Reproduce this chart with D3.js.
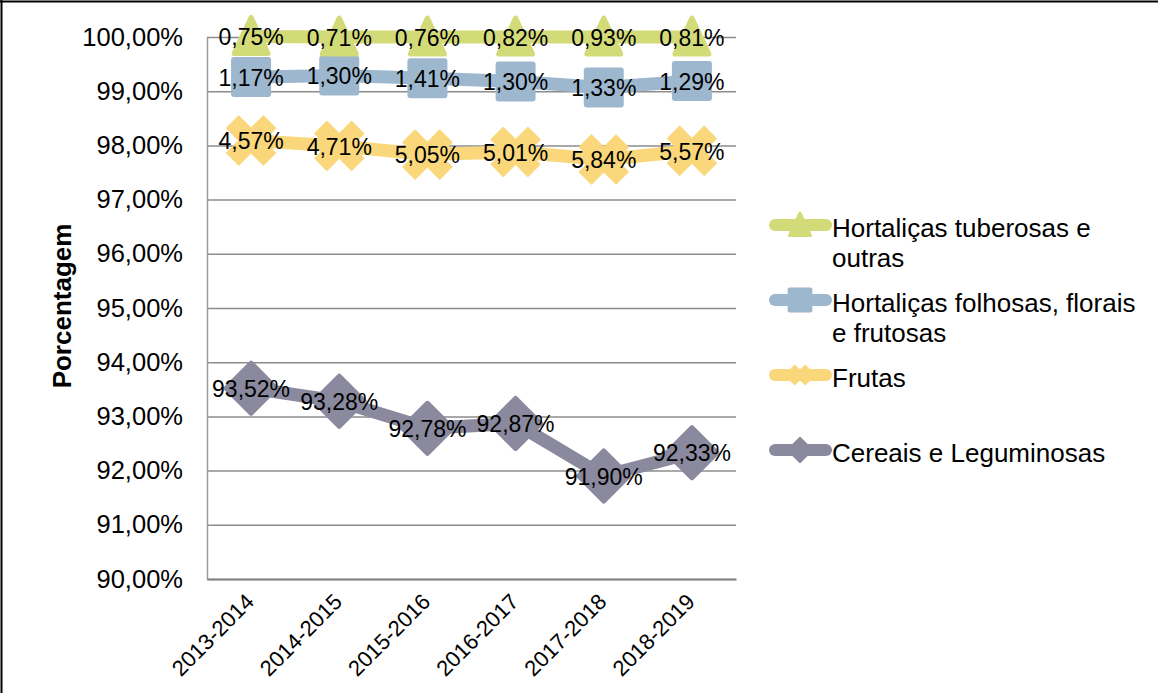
<!DOCTYPE html>
<html>
<head>
<meta charset="utf-8">
<script src="https://cdn.jsdelivr.net/npm/d3@7"></script>
<style>
  body { margin: 0; background: #fff; }
  svg { display: block; font-family: "Liberation Sans", Arial, sans-serif; }
</style>
</head>
<body>
<svg id="chart" width="1158" height="693"></svg>
<script>

// data
const categories = ["2013-2014", "2014-2015", "2015-2016", "2016-2017", "2017-2018", "2018-2019"]
const cereais = [93.52, 93.28, 92.78, 92.87, 91.90, 92.33]
const frutas = [4.57, 4.71, 5.05, 5.01, 5.84, 5.57]
const folhosas = [1.17, 1.30, 1.41, 1.30, 1.33, 1.29]
const tuberosas = [0.75, 0.71, 0.76, 0.82, 0.93, 0.81]
const yTicks = [90, 91, 92, 93, 94, 95, 96, 97, 98, 99, 100]

// stacking order (bottom first)
const seriesKeys = ["cereais", "frutas", "folhosas", "tuberosas"]
const seriesValues = { cereais, frutas, folhosas, tuberosas }
const seriesColors = { cereais: "#8a899e", frutas: "#fad77a", folhosas: "#9db7cf", tuberosas: "#d3da78" }
const seriesMarkers = { cereais: "diamond", frutas: "x", folhosas: "square", tuberosas: "triangle" }

// legend goes top to bottom
const legendKeys = ["tuberosas", "folhosas", "frutas", "cereais"]
const legendLabels = {
  tuberosas: ["Hortaliças tuberosas e", "outras"],
  folhosas: ["Hortaliças folhosas, florais", "e frutosas"],
  frutas: ["Frutas"],
  cereais: ["Cereais e Leguminosas"]
}

const fmt = v => v.toFixed(2).replace(".", ",") + "%"

const svg = d3.select("#chart")

// outer frame (top and left only visible)
svg.append("line").attr("x1", 0).attr("x2", 1158).attr("y1", 1.5).attr("y2", 1.5)
  .attr("stroke", "#000").attr("stroke-width", 2)
svg.append("line").attr("x1", 1.5).attr("x2", 1.5).attr("y1", 0).attr("y2", 693)
  .attr("stroke", "#000").attr("stroke-width", 2)

const plot = { left: 207, right: 736, top: 37, bottom: 579 }

const x = d3.scaleBand().domain(categories).range([plot.left, plot.right])
const xc = c => x(c) + x.bandwidth() / 2
const y = d3.scaleLinear().domain([90, 100]).range([plot.bottom, plot.top])

// gridlines
svg.append("g")
  .attr("transform", `translate(${plot.left},0)`)
  .call(d3.axisLeft(y).tickValues(yTicks).tickSize(-(plot.right - plot.left)).tickFormat(""))
  .call(g => g.select(".domain").remove())
  .call(g => g.selectAll("line").attr("stroke", "#8c8c8c").attr("stroke-width", 1.5))

// y axis
svg.append("g")
  .attr("transform", `translate(${plot.left},0)`)
  .call(d3.axisLeft(y).tickValues(yTicks).tickSize(0).tickPadding(24).tickFormat(fmt))
  .call(g => g.select(".domain").attr("stroke", "#9a9a9a").attr("stroke-width", 1.5))
  .call(g => g.selectAll("text").attr("font-size", 25.5).attr("fill", "#000")
    .attr("font-family", "Liberation Sans, Arial, sans-serif"))

// x axis
svg.append("g")
  .attr("transform", `translate(0,${plot.bottom})`)
  .call(d3.axisBottom(x).tickSize(0))
  .call(g => g.select(".domain").attr("stroke", "#858585").attr("stroke-width", 2))
  .call(g => g.selectAll("text")
    .attr("font-size", 22).attr("fill", "#000")
    .attr("font-family", "Liberation Sans, Arial, sans-serif")
    .attr("text-anchor", "end")
    .attr("x", -14).attr("y", 20).attr("dy", 0)
    .attr("transform", "rotate(-45)"))

// axis title
svg.append("text")
  .attr("transform", "translate(71,306) rotate(-90)")
  .attr("text-anchor", "middle")
  .attr("font-size", 26).attr("font-weight", "bold")
  .text("Porcentagem")

// marker shapes
function markerPath(type) {
  if (type === "triangle") return "M0,-19L17,17L-17,17Z"
  if (type === "square") return "M-17,-17H17V17H-17Z"
  if (type === "diamond") return "M0,-25L25,0L0,25L-25,0Z"
  return d3.symbol(d3.symbolCross, 1520)()
}
const markerStroke = { triangle: 5, square: 6, diamond: 5, x: 1 }

// stacked data
const rows = categories.map((c, i) => {
  let r = { cat: c }
  seriesKeys.forEach(k => r[k] = seriesValues[k][i])
  return r
})
const stacked = d3.stack().keys(seriesKeys)(rows)

const line = d3.line()
  .x(d => xc(d.data.cat))
  .y(d => y(d[1]))

const series = svg.append("g").selectAll("g")
  .data(stacked)
  .join("g")

series.append("path")
  .attr("d", line)
  .attr("fill", "none")
  .attr("stroke", s => seriesColors[s.key])
  .attr("stroke-width", 13)
  .attr("stroke-linejoin", "round")

series.each(function (s) {
  const type = seriesMarkers[s.key]
  d3.select(this).selectAll("path.marker")
    .data(s)
    .join("path")
    .attr("class", "marker")
    .attr("d", markerPath(type))
    .attr("transform", d => `translate(${xc(d.data.cat)},${y(d[1])})` + (type === "x" ? " rotate(45)" : ""))
    .attr("fill", seriesColors[s.key])
    .attr("stroke", seriesColors[s.key])
    .attr("stroke-width", markerStroke[type])
    .attr("stroke-linejoin", "round")
})

// data labels (individual values, centred on the stacked points)
const labels = svg.append("g")
stacked.forEach(s => {
  labels.selectAll(null)
    .data(s)
    .join("text")
    .attr("x", d => xc(d.data.cat))
    .attr("y", d => y(d[1]))
    .attr("dy", "0.38em")
    .attr("text-anchor", "middle")
    .attr("font-size", 23)
    .attr("fill", "#000")
    .text(d => fmt(d.data[s.key]))
})

// legend
const legend = svg.append("g")
const legendRow = d3.scaleLinear().domain([0, 3]).range([225, 450])

legendKeys.forEach((k, i) => {
  const g = legend.append("g").attr("transform", `translate(0,${legendRow(i)})`)
  const type = seriesMarkers[k]
  g.append("line")
    .attr("x1", 775).attr("x2", 826)
    .attr("stroke", seriesColors[k]).attr("stroke-width", 12).attr("stroke-linecap", "round")
  const sc = type === "diamond" ? 0.48 : type === "x" ? 0.42 : 0.62
  g.append("path")
    .attr("d", markerPath(type))
    .attr("transform", `translate(800,0) scale(${sc})` + (type === "x" ? " rotate(45)" : ""))
    .attr("fill", seriesColors[k])
    .attr("stroke", seriesColors[k])
    .attr("stroke-width", markerStroke[type])
    .attr("stroke-linejoin", "round")
  const t = g.append("text")
    .attr("x", 832).attr("y", 12)
    .attr("font-size", 26).attr("fill", "#000")
  legendLabels[k].forEach((ln, j) => {
    t.append("tspan").attr("x", 832).attr("dy", j === 0 ? 0 : 30).text(ln)
  })
})
</script>
</body>
</html>
